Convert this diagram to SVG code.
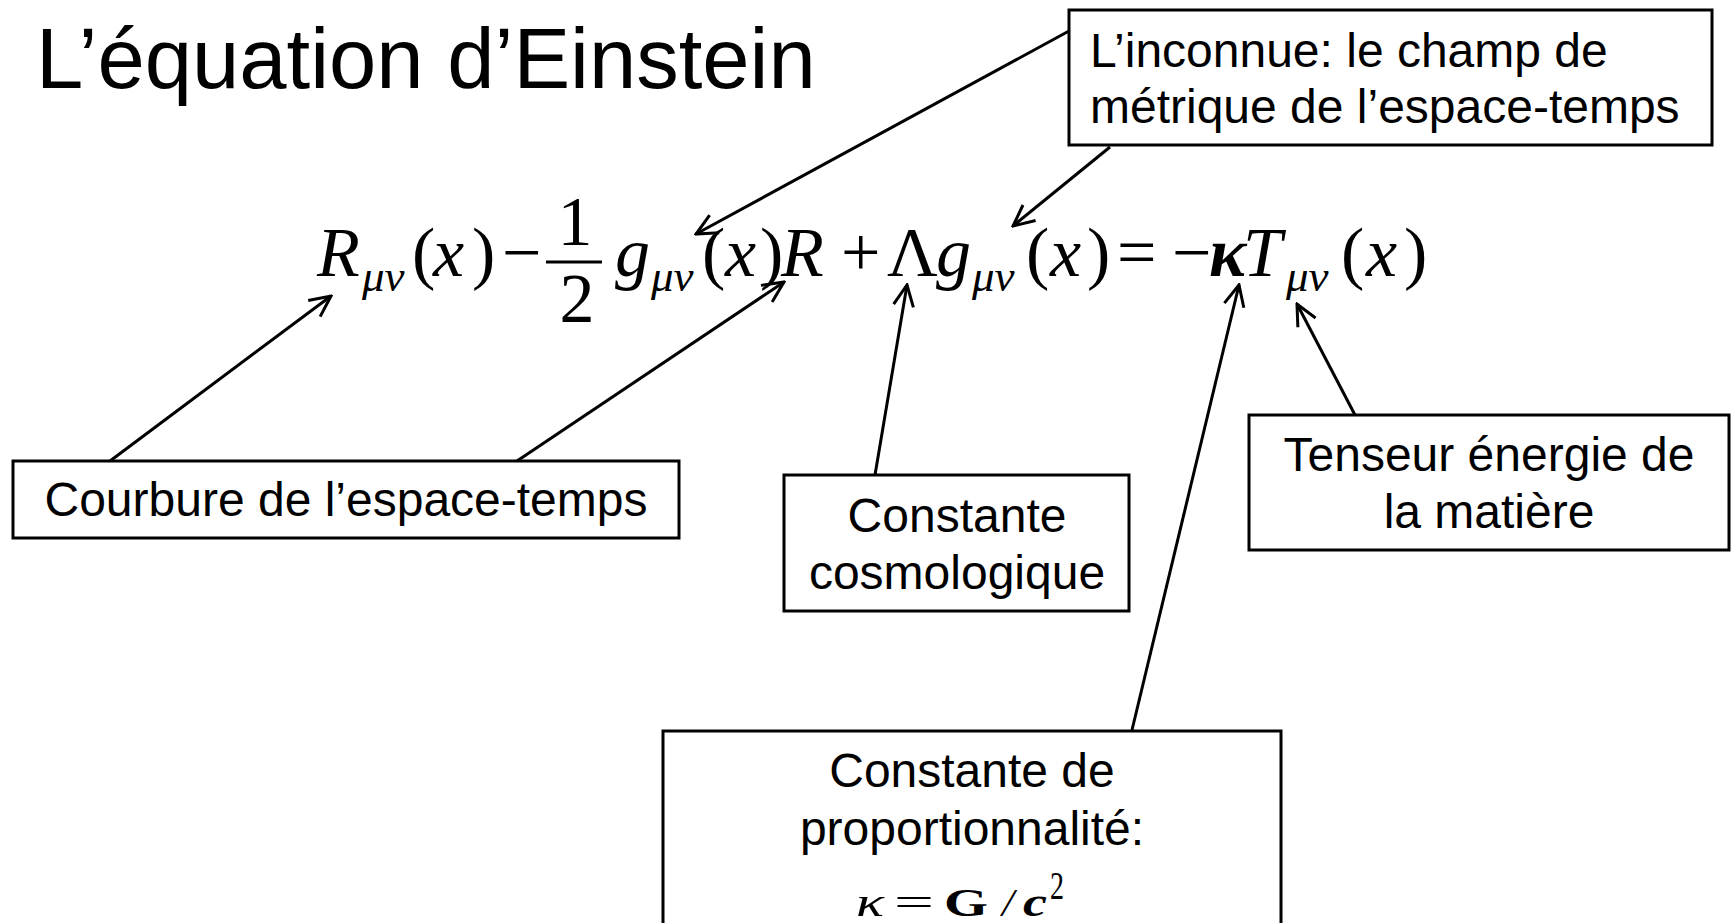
<svg xmlns="http://www.w3.org/2000/svg" width="1731" height="923" viewBox="0 0 1731 923">
<style>
.box{fill:#fff;stroke:#000;stroke-width:3}
.lbl{font-family:"Liberation Sans",Arial,sans-serif;font-size:48px;fill:#000}
.eq{font-family:"Liberation Serif","Times New Roman",serif;font-size:70px;fill:#000}
.it{font-style:italic}
.sub{font-family:"Liberation Serif","Times New Roman",serif;font-size:45px;font-style:italic;fill:#000}
.fm{font-family:"Liberation Serif","Times New Roman",serif;font-size:40px;fill:#000}
.conn line{stroke:#000;stroke-width:3;fill:none}
</style>
<defs>
<marker id="arr" viewBox="0 0 26 26" refX="24" refY="13" markerWidth="26" markerHeight="26" orient="auto" markerUnits="userSpaceOnUse">
<path d="M3,3 L24,13 L3,23" fill="none" stroke="#000" stroke-width="3"/>
</marker>
</defs>
<rect width="1731" height="923" fill="#fff"/>
<text id="title" x="36" y="88" style="font-family:'Liberation Sans',Arial,sans-serif;font-size:85px;fill:#000">L’équation d’Einstein</text>

<g id="equation">
<text class="eq it" x="317" y="276">R</text>
<text class="sub" x="362" y="291">μν</text>
<text class="eq" x="412" y="276">(</text>
<text class="eq it" x="433" y="276">x</text>
<text class="eq" x="472" y="276">)</text>
<text class="eq" x="502" y="276">−</text>
<text class="eq" x="575" y="245" text-anchor="middle">1</text>
<line x1="546" y1="262" x2="602" y2="262" stroke="#000" stroke-width="3"/>
<text class="eq" x="577" y="322" text-anchor="middle">2</text>
<text class="eq it" x="615" y="276">g</text>
<text class="sub" x="651" y="291">μν</text>
<text class="eq" x="702" y="276">(</text>
<text class="eq it" x="725" y="276">x</text>
<text class="eq" x="760" y="276">)</text>
<text class="eq it" x="781" y="276">R</text>
<text class="eq" x="841" y="276">+</text>
<text class="eq" x="887" y="276">Λ</text>
<text class="eq it" x="936" y="276">g</text>
<text class="sub" x="972" y="291">μν</text>
<text class="eq" x="1026" y="276">(</text>
<text class="eq it" x="1050" y="276">x</text>
<text class="eq" x="1087" y="276">)</text>
<text class="eq" x="1117" y="276">=</text>
<text class="eq" x="1172" y="276">−</text>
<text class="eq it" x="1209" y="276" font-weight="bold">κ</text>
<text class="eq it" x="1243" y="276">T</text>
<text class="sub" x="1286" y="291">μν</text>
<text class="eq" x="1341" y="276">(</text>
<text class="eq it" x="1366" y="276">x</text>
<text class="eq" x="1404" y="276">)</text>
</g>

<g id="node-inconnue">
<rect class="box" x="1069" y="10" width="643" height="135"/>
<text class="lbl" x="1090" y="67">L’inconnue: le champ de</text>
<text class="lbl" x="1090" y="123">métrique de l’espace-temps</text>
</g>

<g id="node-courbure">
<rect class="box" x="13" y="461" width="666" height="77"/>
<text class="lbl" x="346" y="516" text-anchor="middle">Courbure de l’espace-temps</text>
</g>

<g id="node-cosmo">
<rect class="box" x="784" y="475" width="345" height="136"/>
<text class="lbl" x="957" y="532" text-anchor="middle">Constante</text>
<text class="lbl" x="957" y="589" text-anchor="middle">cosmologique</text>
</g>

<g id="node-tenseur">
<rect class="box" x="1249" y="415" width="480" height="135"/>
<text class="lbl" x="1489" y="471" text-anchor="middle">Tenseur énergie de</text>
<text class="lbl" x="1489" y="528" text-anchor="middle">la matière</text>
</g>

<g id="node-proportion">
<rect class="box" x="663" y="731" width="618" height="230"/>
<text class="lbl" x="972" y="787" text-anchor="middle">Constante de</text>
<text class="lbl" x="972" y="845" text-anchor="middle">proportionnalité:</text>
<text class="fm it" x="856" y="916" textLength="28" lengthAdjust="spacingAndGlyphs">κ</text>
<text class="fm" x="894" y="916" textLength="40" lengthAdjust="spacingAndGlyphs">=</text>
<text class="fm" x="944" y="916" font-weight="bold" textLength="44" lengthAdjust="spacingAndGlyphs">G</text>
<text class="fm it" x="1002" y="916" textLength="12" lengthAdjust="spacingAndGlyphs">/</text>
<text class="fm it" x="1023" y="916" font-weight="bold" textLength="24" lengthAdjust="spacingAndGlyphs">c</text>
<text class="fm" x="1050" y="899" font-size="24" textLength="14" lengthAdjust="spacingAndGlyphs">2</text>
</g>

<g id="connectors" class="conn">
<line x1="1069" y1="31" x2="696" y2="234" marker-end="url(#arr)"/>
<line x1="1110" y1="147" x2="1013" y2="226" marker-end="url(#arr)"/>
<line x1="110" y1="461" x2="331" y2="296" marker-end="url(#arr)"/>
<line x1="517" y1="461" x2="784" y2="282" marker-end="url(#arr)"/>
<line x1="875" y1="475" x2="907" y2="285" marker-end="url(#arr)"/>
<line x1="1132" y1="730" x2="1239" y2="285" marker-end="url(#arr)"/>
<line x1="1355" y1="415" x2="1297" y2="304" marker-end="url(#arr)"/>
</g>
</svg>
